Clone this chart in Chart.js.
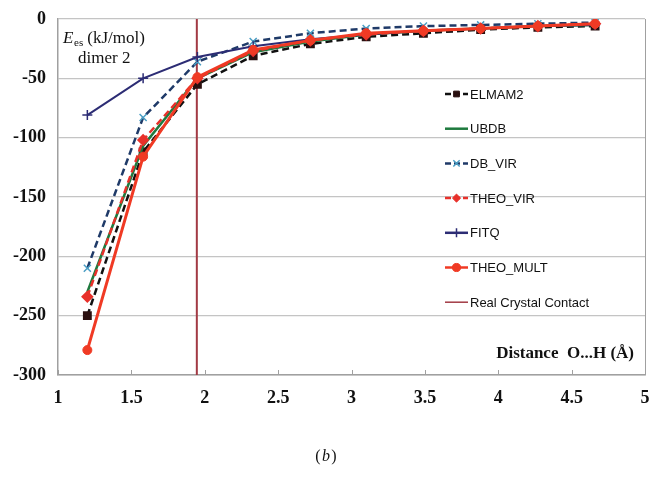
<!DOCTYPE html>
<html>
<head>
<meta charset="utf-8">
<script src="https://cdn.jsdelivr.net/npm/chart.js@4"></script>
<style>
  body { margin: 0; background: #fff; }
  canvas { display: block; }
</style>
</head>
<body>
<canvas id="chartEl" width="652" height="489"></canvas>
<script>
/************ DATA ************/
const distances = [1.2, 1.58, 1.95, 2.33, 2.72, 3.1, 3.49, 3.88, 4.27, 4.66];

const elmam2   = [-250, -112, -55, -31, -21, -15, -12, -9, -7, -6];
const ubdb     = [-230, -107, -50, -28, -19, -13, -10, -8, -6, -5];
const dbVir    = [-210, -83, -36, -19, -12, -8, -6, -5, -4, -3];
const theoVir  = [-234, -102, -50, -27, -18, -13, -10, -8, -6, -4];
const fitq     = [-81, -50, -32, -23, -17, -13, -10, -8, -6, -5];
const theoMult = [-279, -116, -49, -26, -18, -12, -10, -8, -6, -4];

const contactX = 1.946;
const contactY = [0, -300];

const yTicks = [0, -50, -100, -150, -200, -250, -300];

/************ HELPERS ************/
const pts = ys => ys.map((y, i) => ({ x: distances[i], y }));

const SERIF = "'Liberation Serif', 'DejaVu Serif', serif";
const SANS = "'Liberation Sans', Arial, sans-serif";

/************ PLUGINS ************/
// legend drawn inside the plot, gridlines show through
const innerLegend = {
    id: "innerLegend",
    afterDraw(c) {
        const ctx = c.ctx;
        const x0 = 445, x1 = 468;
        let y = 94;
        c.data.datasets.forEach(ds => {
            ctx.save();
            ctx.strokeStyle = ds.borderColor;
            ctx.lineWidth = ds.legendWidth || 2.5;
            ctx.setLineDash(ds.legendDash || []);
            ctx.beginPath();
            ctx.moveTo(x0, y);
            ctx.lineTo(x1, y);
            ctx.stroke();
            ctx.setLineDash([]);
            if (ds.pointStyle && ds.pointRadius > 0) {
                ctx.fillStyle = ds.pointBackgroundColor;
                ctx.strokeStyle = ds.pointBorderColor;
                ctx.lineWidth = ds.pointBorderWidth || 1;
                Chart.helpers.drawPoint(ctx, {
                    pointStyle: ds.pointStyle,
                    radius: ds.pointRadius * 0.9,
                    borderWidth: ds.pointBorderWidth || 1,
                    rotation: 0
                }, (x0 + x1) / 2, y);
            }
            ctx.fillStyle = "#111";
            ctx.font = "13px " + SANS;
            ctx.textBaseline = "middle";
            ctx.fillText(ds.label, x1 + 2, y + 1);
            ctx.restore();
            y += 34.7;
        });
    }
};

const annotations = {
    id: "annotations",
    afterDraw(c) {
        const ctx = c.ctx;
        const a = c.chartArea;
        const xs = c.scales.x;
        ctx.save();
        // right frame + small inner ticks on the x axis
        ctx.strokeStyle = "#a0a0a0";
        ctx.lineWidth = 1;
        ctx.beginPath();
        ctx.moveTo(a.right + 0.5, a.top);
        ctx.lineTo(a.right + 0.5, a.bottom);
        xs.ticks.forEach(t => {
            const px = Math.round(xs.getPixelForValue(t.value)) + 0.5;
            ctx.moveTo(px, a.bottom);
            ctx.lineTo(px, a.bottom - 5);
        });
        ctx.stroke();

        ctx.fillStyle = "#111";
        // y title
        ctx.font = "italic 17px " + SERIF;
        ctx.textBaseline = "alphabetic";
        ctx.fillText("E", 63, 43);
        ctx.font = "11px " + SERIF;
        ctx.fillText("es", 74, 46);
        ctx.font = "17px " + SERIF;
        ctx.fillText(" (kJ/mol)", 83, 43);
        ctx.fillText("dimer 2", 78, 63);

        // x title
        ctx.font = "bold 17px " + SERIF;
        ctx.textAlign = "right";
        ctx.fillText("Distance  O...H (Å)", 634, 358);

        // panel label
        ctx.textAlign = "center";
        ctx.font = "16px " + SERIF;
        ctx.fillText("(", 318, 461);
        ctx.fillText(")", 334, 461);
        ctx.font = "italic 16px " + SERIF;
        ctx.fillText("b", 326, 461);
        ctx.restore();
    }
};

/************ CHART ************/
const chart = new Chart(chartEl, {
    type: "line",
    data: {
        datasets: [
            {
                label: "ELMAM2", data: pts(elmam2), order: 5,
                borderColor: "#111111", borderWidth: 2.5, borderDash: [7, 4], legendDash: [6, 3],
                pointStyle: "rect", pointRadius: 4.5,
                pointBackgroundColor: "#2a1010", pointBorderColor: "#2a1010"
            },
            {
                label: "UBDB", data: pts(ubdb), order: 4,
                borderColor: "#1e7a3e", borderWidth: 2.5,
                pointRadius: 0
            },
            {
                label: "DB_VIR", data: pts(dbVir), order: 6,
                borderColor: "#1f3a68", borderWidth: 2.5, borderDash: [7, 4], legendDash: [6, 3],
                pointStyle: "crossRot", pointRadius: 5, pointBorderWidth: 1.5,
                pointBackgroundColor: "#4a9ec4", pointBorderColor: "#4a9ec4"
            },
            {
                label: "THEO_VIR", data: pts(theoVir), order: 2,
                borderColor: "#e8302a", borderWidth: 2.5, borderDash: [7, 4], legendDash: [6, 3],
                pointStyle: "rectRot", pointRadius: 4.5,
                pointBackgroundColor: "#e8302a", pointBorderColor: "#e8302a"
            },
            {
                label: "FITQ", data: pts(fitq), order: 3,
                borderColor: "#2c2c74", borderWidth: 2,
                pointStyle: "cross", pointRadius: 5, pointBorderWidth: 1.5,
                pointBackgroundColor: "#2c2c74", pointBorderColor: "#2c2c74"
            },
            {
                label: "THEO_MULT", data: pts(theoMult), order: 1,
                borderColor: "#f03a24", borderWidth: 3,
                pointStyle: "circle", pointRadius: 4.5, pointBorderWidth: 1,
                pointBackgroundColor: "#f03a24", pointBorderColor: "#f03a24"
            },
            {
                label: "Real Crystal Contact", order: 7,
                data: contactY.map(y => ({ x: contactX, y })),
                borderColor: "#a23a44", borderWidth: 2, legendWidth: 1.5,
                pointRadius: 0
            }
        ]
    },
    options: {
        responsive: false,
        animation: false,
        devicePixelRatio: 1,
        layout: { padding: { top: 19, right: 6, left: 0, bottom: 0 } },
        plugins: {
            legend: { display: false },
            tooltip: { enabled: false }
        },
        elements: { line: { tension: 0 } },
        scales: {
            x: {
                type: "linear", min: 1, max: 5,
                ticks: {
                    stepSize: 0.5, color: "#111", padding: 5,
                    font: { family: SERIF, size: 18, weight: "bold" },
                    callback: v => String(v)
                },
                grid: { display: false },
                border: { color: "#a0a0a0", width: 1.5 },
                afterFit(s) {
                    s.height = 114;
                    s.paddingLeft = 0;
                    s.paddingRight = 0;
                }
            },
            y: {
                min: -300, max: 0,
                afterBuildTicks(s) { s.ticks = yTicks.map(v => ({ value: v })); },
                ticks: {
                    color: "#111", padding: 12,
                    font: { family: SERIF, size: 18, weight: "bold" }
                },
                grid: { color: "#c4c4c4", lineWidth: 1.3, drawTicks: false },
                border: { color: "#a0a0a0", width: 1.5 },
                afterFit(s) {
                    s.width = 58;
                    s.paddingTop = 0;
                    s.paddingBottom = 0;
                }
            }
        }
    },
    plugins: [innerLegend, annotations]
});
</script>
</body>
</html>
